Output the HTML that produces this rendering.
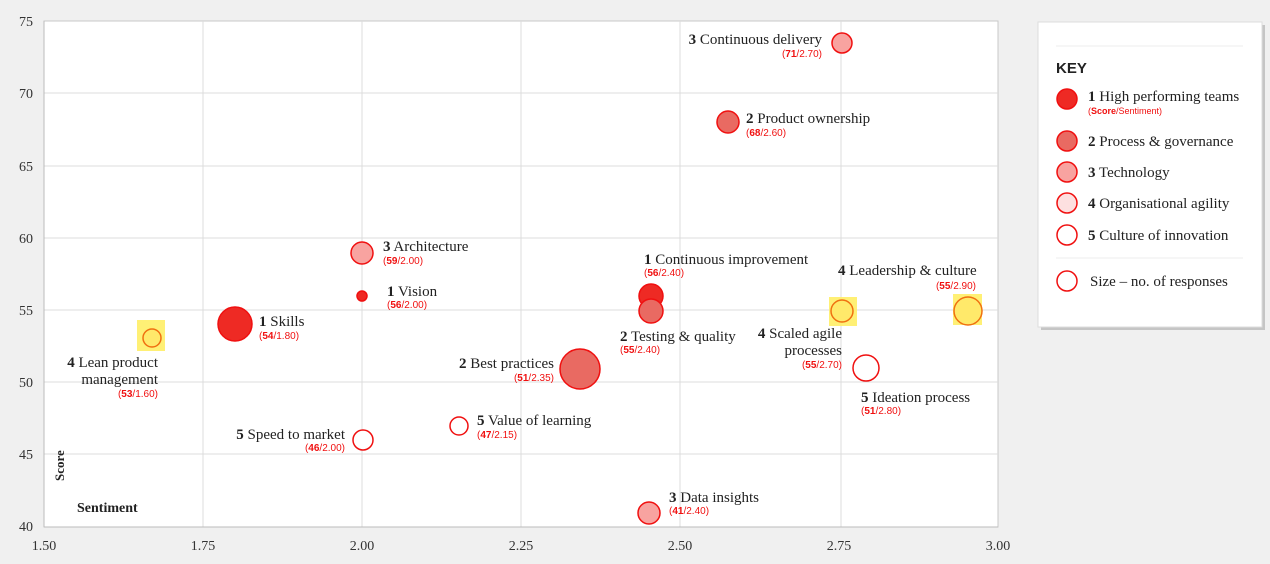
<!DOCTYPE html>
<html><head><meta charset="utf-8"><style>
body{margin:0;width:1270px;height:564px;background:#f0f0f0;overflow:hidden;font-family:"Liberation Serif",serif}
</style></head><body>
<svg width="1270" height="564" xmlns="http://www.w3.org/2000/svg" style="position:absolute;left:0;top:0">
<rect x="44" y="21" width="954" height="506" fill="#fff" stroke="#c8c8c8"/>
<g stroke="#dcdcdc" stroke-width="1">
<line x1="203" y1="21" x2="203" y2="527"/><line x1="362" y1="21" x2="362" y2="527"/><line x1="521" y1="21" x2="521" y2="527"/><line x1="680" y1="21" x2="680" y2="527"/><line x1="841" y1="21" x2="841" y2="527"/>
<line x1="44" y1="93" x2="998" y2="93"/><line x1="44" y1="166" x2="998" y2="166"/><line x1="44" y1="238" x2="998" y2="238"/><line x1="44" y1="310" x2="998" y2="310"/><line x1="44" y1="382" x2="998" y2="382"/><line x1="44" y1="454" x2="998" y2="454"/>
</g>
<line x1="44" y1="21" x2="44" y2="527" stroke="#bbb"/><line x1="44" y1="527" x2="998" y2="527" stroke="#bbb"/>
<g font-size="14" fill="#333" text-anchor="end">
<text x="33" y="26">75</text><text x="33" y="98">70</text><text x="33" y="171">65</text><text x="33" y="243">60</text><text x="33" y="315">55</text><text x="33" y="387">50</text><text x="33" y="459">45</text><text x="33" y="531">40</text></g>
<g font-size="14" fill="#333" text-anchor="middle">
<text x="44" y="550">1.50</text><text x="203" y="550">1.75</text><text x="362" y="550">2.00</text><text x="521" y="550">2.25</text><text x="680" y="550">2.50</text><text x="839" y="550">2.75</text><text x="998" y="550">3.00</text></g>
<text x="77" y="512" font-size="14" font-weight="bold" fill="#222">Sentiment</text>
<text transform="translate(64,481) rotate(-90)" font-size="13" font-weight="bold" fill="#222">Score</text>
<g fill="#ffee66" opacity="0.9"><rect x="137" y="320" width="28" height="31"/><rect x="829" y="297" width="28" height="29"/><rect x="953" y="294" width="29" height="31"/></g>
<g stroke="#f01010" stroke-width="1.5">
<circle cx="842" cy="43" r="10" fill="#f8a3a0"/>
<circle cx="728" cy="122" r="11" fill="#e96a62"/>
<circle cx="362" cy="253" r="11" fill="#f8a3a0"/>
<circle cx="362" cy="296" r="5" fill="#ee2a24"/>
<circle cx="235" cy="324" r="17" fill="#ee2a24"/>
<circle cx="651" cy="296" r="12" fill="#ee2a24"/>
<circle cx="651" cy="311" r="12" fill="#e96a62"/>
<circle cx="580" cy="369" r="20" fill="#e96a62"/>
<circle cx="866" cy="368" r="13" fill="#fff"/>
<circle cx="363" cy="440" r="10" fill="#fff"/>
<circle cx="459" cy="426" r="9" fill="#fff"/>
<circle cx="649" cy="513" r="11" fill="#f8a3a0"/>
</g>
<g stroke="#f07010" stroke-width="1.5" fill="#ffe96a">
<circle cx="152" cy="338" r="9"/><circle cx="842" cy="311" r="11"/><circle cx="968" cy="311" r="14"/></g>
<g font-size="15" fill="#222">
<text x="822" y="44" text-anchor="end"><tspan font-weight="bold">3</tspan> Continuous delivery</text>
<text x="746" y="123"><tspan font-weight="bold">2</tspan> Product ownership</text>
<text x="383" y="251"><tspan font-weight="bold">3</tspan> Architecture</text>
<text x="387" y="296"><tspan font-weight="bold">1</tspan> Vision</text>
<text x="259" y="326"><tspan font-weight="bold">1</tspan> Skills</text>
<text x="158" y="367" text-anchor="end"><tspan font-weight="bold">4</tspan> Lean product</text>
<text x="158" y="384" text-anchor="end">management</text>
<text x="644" y="264"><tspan font-weight="bold">1</tspan> Continuous improvement</text>
<text x="620" y="341"><tspan font-weight="bold">2</tspan> Testing &amp; quality</text>
<text x="554" y="368" text-anchor="end"><tspan font-weight="bold">2</tspan> Best practices</text>
<text x="838" y="275"><tspan font-weight="bold">4</tspan> Leadership &amp; culture</text>
<text x="842" y="338" text-anchor="end"><tspan font-weight="bold">4</tspan> Scaled agile</text>
<text x="842" y="355" text-anchor="end">processes</text>
<text x="861" y="402"><tspan font-weight="bold">5</tspan> Ideation process</text>
<text x="345" y="439" text-anchor="end"><tspan font-weight="bold">5</tspan> Speed to market</text>
<text x="477" y="425"><tspan font-weight="bold">5</tspan> Value of learning</text>
<text x="669" y="502"><tspan font-weight="bold">3</tspan> Data insights</text>
</g>
<g font-size="10" fill="#f01010" font-family="Liberation Sans, sans-serif">
<text x="822" y="57" text-anchor="end">(<tspan font-weight="bold">71</tspan>/2.70)</text>
<text x="746" y="136">(<tspan font-weight="bold">68</tspan>/2.60)</text>
<text x="383" y="264">(<tspan font-weight="bold">59</tspan>/2.00)</text>
<text x="387" y="308">(<tspan font-weight="bold">56</tspan>/2.00)</text>
<text x="259" y="339">(<tspan font-weight="bold">54</tspan>/1.80)</text>
<text x="158" y="397" text-anchor="end">(<tspan font-weight="bold">53</tspan>/1.60)</text>
<text x="644" y="276">(<tspan font-weight="bold">56</tspan>/2.40)</text>
<text x="620" y="353">(<tspan font-weight="bold">55</tspan>/2.40)</text>
<text x="554" y="381" text-anchor="end">(<tspan font-weight="bold">51</tspan>/2.35)</text>
<text x="976" y="289" text-anchor="end">(<tspan font-weight="bold">55</tspan>/2.90)</text>
<text x="842" y="368" text-anchor="end">(<tspan font-weight="bold">55</tspan>/2.70)</text>
<text x="861" y="414">(<tspan font-weight="bold">51</tspan>/2.80)</text>
<text x="345" y="451" text-anchor="end">(<tspan font-weight="bold">46</tspan>/2.00)</text>
<text x="477" y="438">(<tspan font-weight="bold">47</tspan>/2.15)</text>
<text x="669" y="514">(<tspan font-weight="bold">41</tspan>/2.40)</text>
</g>
<rect x="1041" y="25" width="224" height="305" fill="#999" opacity="0.5"/>
<rect x="1038" y="22" width="224" height="305" fill="#fff" stroke="#ddd"/>
<line x1="1056" y1="46" x2="1243" y2="46" stroke="#eee"/>
<line x1="1056" y1="258" x2="1243" y2="258" stroke="#eee"/>
<text x="1056" y="73" font-size="15" font-weight="bold" fill="#222" font-family="Liberation Sans, sans-serif">KEY</text>
<g stroke="#f01010" stroke-width="1.5">
<circle cx="1067" cy="99" r="10" fill="#ee2a24"/>
<circle cx="1067" cy="141" r="10" fill="#e96a62"/>
<circle cx="1067" cy="172" r="10" fill="#f8a3a0"/>
<circle cx="1067" cy="203" r="10" fill="#fde0e0"/>
<circle cx="1067" cy="235" r="10" fill="#fff"/>
<circle cx="1067" cy="281" r="10" fill="#fff"/>
</g>
<g font-size="15" fill="#222">
<text x="1088" y="101"><tspan font-weight="bold">1</tspan> High performing teams</text>
<text x="1088" y="146"><tspan font-weight="bold">2</tspan> Process &amp; governance</text>
<text x="1088" y="177"><tspan font-weight="bold">3</tspan> Technology</text>
<text x="1088" y="208"><tspan font-weight="bold">4</tspan> Organisational agility</text>
<text x="1088" y="240"><tspan font-weight="bold">5</tspan> Culture of innovation</text>
<text x="1090" y="286">Size – no. of responses</text>
</g>
<text x="1088" y="114" font-size="9" fill="#f01010" font-family="Liberation Sans, sans-serif">(<tspan font-weight="bold">Score</tspan>/Sentiment)</text>
</svg>
</body></html>
